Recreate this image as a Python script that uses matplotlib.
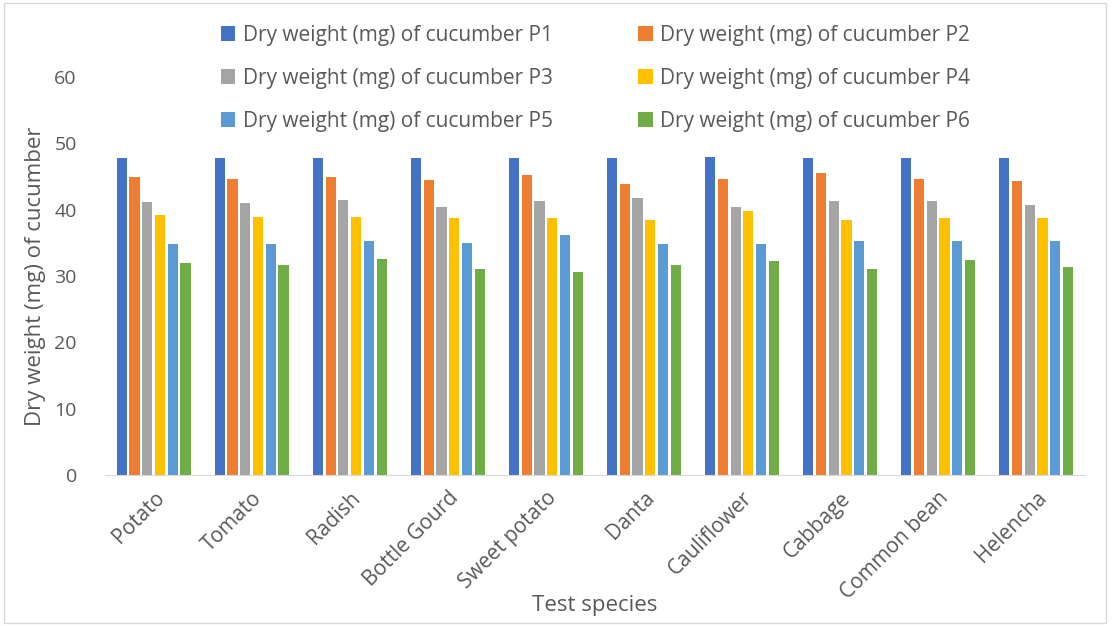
import matplotlib.pyplot as plt
import numpy as np
from matplotlib.patches import Rectangle

species = ['Potato', 'Tomato', 'Radish', 'Bottle Gourd', 'Sweet potato',
           'Danta', 'Cauliflower', 'Cabbage', 'Common bean', 'Helencha']
series_names = ['Dry weight (mg) of cucumber P%d' % i for i in range(1, 7)]

p1 = [47.8, 47.8, 47.8, 47.8, 47.8, 47.8, 47.9, 47.8, 47.8, 47.8]
p2 = [45.0, 44.6, 44.9, 44.5, 45.3, 43.9, 44.6, 45.5, 44.6, 44.4]
p3 = [41.1, 41.0, 41.5, 40.4, 41.3, 41.8, 40.4, 41.3, 41.3, 40.7]
p4 = [39.2, 38.9, 38.9, 38.8, 38.8, 38.4, 39.8, 38.4, 38.8, 38.8]
p5 = [34.8, 34.9, 35.3, 35.0, 36.2, 34.8, 34.9, 35.3, 35.3, 35.3]
p6 = [32.0, 31.7, 32.5, 31.0, 30.6, 31.7, 32.2, 31.0, 32.4, 31.3]

colors = ['#4472C4', '#ED7D31', '#A5A5A5', '#FFC000', '#5B9BD5', '#70AD47']
txt = '#595959'

fig = plt.figure(figsize=(11.13, 6.26), dpi=100)
ax = fig.add_axes([0.094, 0.241, 0.881, 0.636])

x = np.arange(len(species))
slot = 0.13
bw = 0.104
data = [p1, p2, p3, p4, p5, p6]
handles = []
for i, vals in enumerate(data):
    b = ax.bar(x + (i - 2.5) * slot, vals, bw, color=colors[i], label=series_names[i])
    handles.append(b)

ax.set_xlim(-0.5, 9.5)
ax.set_ylim(0, 60)
ax.set_yticks(range(0, 61, 10))
ax.set_xticks(x)
ax.set_xticklabels(species, rotation=45, ha='right', rotation_mode='anchor',
                   fontsize=15, color=txt, family='Open Sans')
for lab in ax.get_yticklabels():
    lab.set_fontsize(14)
    lab.set_color(txt)
    lab.set_family('Open Sans')
ax.tick_params(length=0)
ax.tick_params(axis='y', pad=20)
ax.tick_params(axis='x', pad=9)
for s in ['top', 'right', 'left']:
    ax.spines[s].set_visible(False)
ax.spines['bottom'].set_color('#D9D9D9')

ax.set_ylabel('Dry weight (mg) of cucumber', fontsize=16, color=txt, family='Open Sans', labelpad=6)
ax.set_xlabel('Test species', fontsize=16, color=txt, family='Open Sans', labelpad=-6)

order = [0, 2, 4, 1, 3, 5]
leg = fig.legend([handles[i] for i in order], [series_names[i] for i in order],
                 ncol=2, loc='upper center', bbox_to_anchor=(0.535, 0.977),
                 frameon=False, handlelength=0.7, handleheight=0.7, borderpad=0,
                 handletextpad=0.35, columnspacing=4.1, labelspacing=1.05,
                 prop={'family': 'Open Sans', 'size': 15})
for t in leg.get_texts():
    t.set_color(txt)

fig.patches.append(Rectangle((0.004, 0.005), 0.99, 0.99, transform=fig.transFigure,
                             fill=False, edgecolor='#D9D9D9', linewidth=1))

fig.savefig('out.png', dpi=100)
